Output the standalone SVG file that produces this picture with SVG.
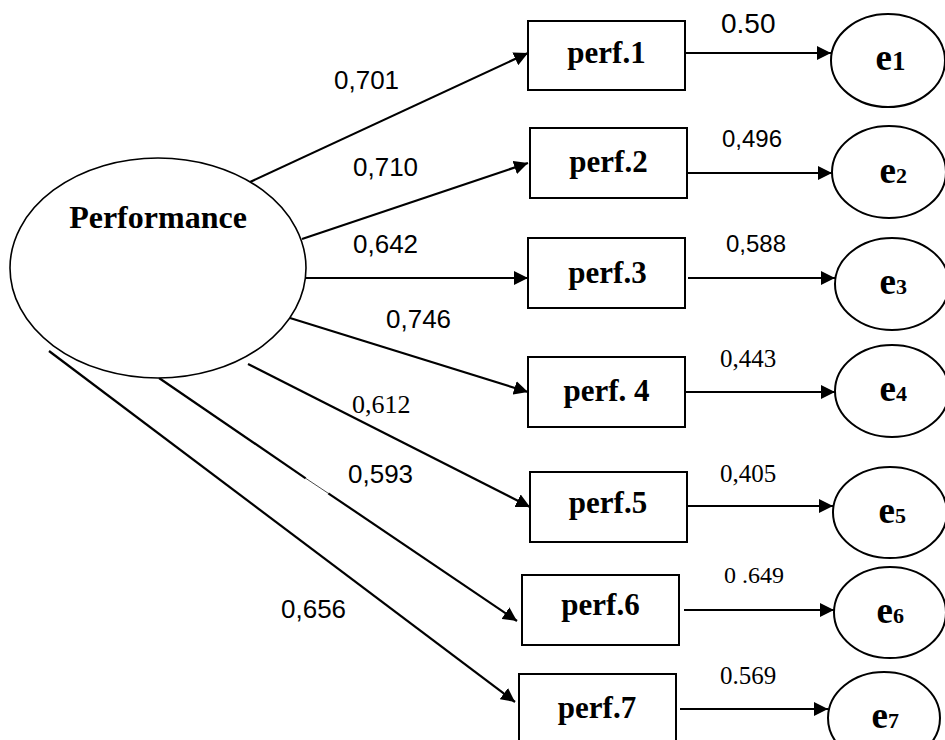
<svg xmlns="http://www.w3.org/2000/svg" width="945" height="740" viewBox="0 0 945 740">
<defs>
<marker id="ah" markerUnits="userSpaceOnUse" markerWidth="15" markerHeight="14" refX="14" refY="7" orient="auto">
<path d="M0,0 L14,7 L0,14 z" fill="#000"/>
</marker>
<style>
.box{fill:#fff;stroke:#000;stroke-width:2}
.ell{fill:#fff;stroke:#000;stroke-width:2}
.lat{fill:#fff;stroke:#000;stroke-width:1.6}
.c{stroke:#000;stroke-width:2.2;fill:none}
.a{marker-end:url(#ah)}
.nb{font-family:"Liberation Serif","Times New Roman",serif;font-weight:bold;fill:#000}
.ls{font-family:"Liberation Sans",Arial,sans-serif;font-size:26px;fill:#000}
.lr{font-family:"Liberation Serif","Times New Roman",serif;font-size:25px;fill:#000}
</style>
</defs>
<rect width="945" height="740" fill="#fff"/>

<g id="connectors">
<line class="c a" x1="250" y1="182" x2="528" y2="53"/>
<line class="c a" x1="302" y1="239" x2="528" y2="163"/>
<line class="c a" x1="306" y1="278" x2="528" y2="278"/>
<line class="c a" x1="290" y1="318" x2="528" y2="392"/>
<line class="c a" x1="248" y1="364" x2="530" y2="507"/>
<line class="c" x1="159" y1="378" x2="305.7" y2="478.3"/>
<line class="c" style="stroke-width:0.7" x1="305.7" y1="478.3" x2="328.3" y2="493.3"/>
<line class="c a" x1="328.3" y1="493.3" x2="517" y2="621"/>
<line class="c a" x1="49" y1="351" x2="515" y2="702"/>
<line class="c a" x1="685" y1="53" x2="831" y2="53"/>
<line class="c a" x1="687" y1="173" x2="832" y2="173"/>
<line class="c a" x1="688" y1="278" x2="835" y2="278"/>
<line class="c a" x1="685" y1="392" x2="835" y2="392"/>
<line class="c a" x1="687" y1="506" x2="833" y2="506"/>
<line class="c a" x1="684" y1="610" x2="834" y2="610"/>
<line class="c a" x1="680" y1="709" x2="828" y2="709"/>
</g>

<g id="labels">
<text class="ls" x="334" y="89">0,701</text>
<text class="ls" x="353" y="176">0,710</text>
<text class="ls" x="353" y="253">0,642</text>
<text class="ls" x="386" y="328">0,746</text>
<text class="lr" x="352" y="413" style="font-size:26px">0,612</text>
<text class="ls" x="348" y="483">0,593</text>
<text class="ls" x="281" y="618">0,656</text>
<text class="ls" x="721" y="33" style="font-size:28px">0.50</text>
<text class="ls" x="722" y="147" style="font-size:24px">0,496</text>
<text class="ls" x="726" y="252" style="font-size:24px">0,588</text>
<text class="lr" x="720" y="367">0,443</text>
<text class="lr" x="720" y="482">0,405</text>
<text class="lr" x="724" y="583" style="font-size:24px">0 .649</text>
<text class="lr" x="720" y="684">0.569</text>
</g>

<g id="Performance">
<ellipse class="lat" cx="158" cy="268" rx="148" ry="110"/>
<text class="nb" x="158" y="228" text-anchor="middle" font-size="32">Performance</text>
</g>

<g id="perf1"><rect class="box" x="528" y="21" width="157" height="69"/><text class="nb" x="606.5" y="63" text-anchor="middle" font-size="31">perf.1</text></g>
<g id="perf2"><rect class="box" x="530" y="128" width="157" height="70"/><text class="nb" x="608.5" y="172" text-anchor="middle" font-size="31">perf.2</text></g>
<g id="perf3"><rect class="box" x="528" y="238" width="157" height="70"/><text class="nb" x="607.5" y="283" text-anchor="middle" font-size="31">perf.3</text></g>
<g id="perf4"><rect class="box" x="528" y="357" width="157" height="70"/><text class="nb" x="606.5" y="401" text-anchor="middle" font-size="31">perf. 4</text></g>
<g id="perf5"><rect class="box" x="530" y="472" width="157" height="70"/><text class="nb" x="608" y="513" text-anchor="middle" font-size="31">perf.5</text></g>
<g id="perf6"><rect class="box" x="522" y="575" width="157" height="70"/><text class="nb" x="600.5" y="615" text-anchor="middle" font-size="31">perf.6</text></g>
<g id="perf7"><rect class="box" x="519" y="674" width="157" height="72"/><text class="nb" x="597" y="718" text-anchor="middle" font-size="31">perf.7</text></g>

<g id="e1"><ellipse class="ell" cx="888" cy="60.5" rx="57" ry="46.5"/><text class="nb" x="875.5" y="70" font-size="37">e<tspan font-size="27">1</tspan></text></g>
<g id="e2"><ellipse class="ell" cx="889" cy="172" rx="57" ry="46"/><text class="nb" x="879.5" y="183" font-size="37">e<tspan font-size="22">2</tspan></text></g>
<g id="e3"><ellipse class="ell" cx="892" cy="284" rx="57" ry="46"/><text class="nb" x="879.5" y="294" font-size="37">e<tspan font-size="22">3</tspan></text></g>
<g id="e4"><ellipse class="ell" cx="892" cy="391" rx="57" ry="46"/><text class="nb" x="879.5" y="401" font-size="37">e<tspan font-size="22">4</tspan></text></g>
<g id="e5"><ellipse class="ell" cx="890" cy="512.5" rx="57" ry="45.5"/><text class="nb" x="878.5" y="523" font-size="37">e<tspan font-size="22">5</tspan></text></g>
<g id="e6"><ellipse class="ell" cx="890" cy="612.5" rx="56" ry="45.5"/><text class="nb" x="876.5" y="623" font-size="37">e<tspan font-size="22">6</tspan></text></g>
<g id="e7"><ellipse class="ell" cx="884" cy="718" rx="56" ry="46"/><text class="nb" x="871.5" y="728" font-size="37">e<tspan font-size="22">7</tspan></text></g>
</svg>
